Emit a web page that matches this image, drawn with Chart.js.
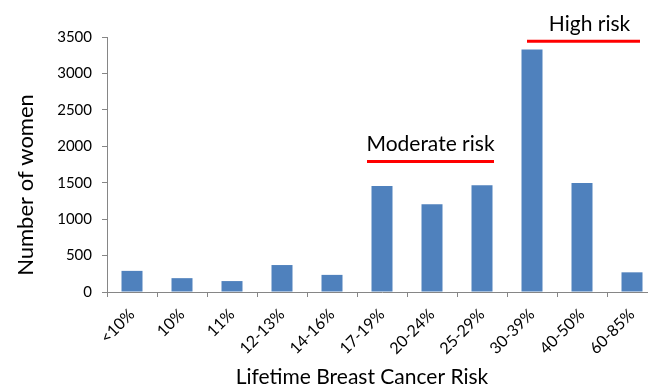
<!DOCTYPE html>
<html>
<head>
<meta charset="utf-8">
<script src="https://cdn.jsdelivr.net/npm/chart.js@4.4.0/dist/chart.umd.min.js"></script>
<style>
  html, body { margin: 0; padding: 0; background: #fff; overflow: hidden; }
  #wrap { width: 648px; height: 387px; overflow: hidden; }
</style>
</head>
<body>
<div id="wrap"><canvas id="chart" width="660" height="387"></canvas></div>
<script>
// categorias y valores
const categories = ['<10%', '10%', '11%', '12-13%', '14-16%', '17-19%', '20-24%', '25-29%', '30-39%', '40-50%', '60-85%'];
const women = [290, 190, 150, 370, 235, 1455, 1205, 1465, 3330, 1495, 270];
const yMax = 3500, yStep = 500;
const xTitle = 'Lifetime Breast Cancer Risk';
const yTitle = 'Number of women';

// bandas de riesgo (en indices de categoria y valor del eje y)
const riskLabels = ['Moderate risk', 'High risk'];
const riskStart = [4.7, 7.9];
const riskEnd = [7.24, 10.16];
const riskLevel = [1790, 3440];

const FONT = 'Lato, "Open Sans", sans-serif';
const AXIS = '#868686';

const riskPlugin = {
  id: 'riskBands',
  afterDatasetsDraw(chart) {
    const {ctx, scales: {x, y}} = chart;
    ctx.save();
    riskLabels.forEach((label, i) => {
      const x0 = x.getPixelForValue(riskStart[i]);
      const x1 = x.getPixelForValue(riskEnd[i]);
      const yy = y.getPixelForValue(riskLevel[i]);
      ctx.strokeStyle = '#ff0000';
      ctx.lineWidth = 3;
      ctx.beginPath();
      ctx.moveTo(x0, yy);
      ctx.lineTo(x1, yy);
      ctx.stroke();
      ctx.fillStyle = '#000';
      ctx.font = '21px ' + FONT;
      ctx.textAlign = 'center';
      ctx.textBaseline = 'alphabetic';
      ctx.fillText(label, (x0 + x1) / 2 + (i === 1 ? 6 : 0), yy - 10.5);
    });
    // titulos de ejes (centrados como en el original recortado)
    ctx.font = '21px ' + FONT;
    ctx.textAlign = 'center';
    ctx.fillText(xTitle, 362, 384);
    ctx.font = '22px ' + FONT;
    ctx.translate(33, 185);
    ctx.rotate(-Math.PI / 2);
    ctx.fillText(yTitle, 0, 0);
    ctx.restore();
  }
};

new Chart(document.getElementById('chart'), {
  type: 'bar',
  data: {
    labels: categories,
    datasets: [{
      label: yTitle,
      data: women,
      backgroundColor: '#4f81bd',
      barPercentage: 0.42,
      categoryPercentage: 1
    }]
  },
  options: {
    responsive: false,
    animation: false,
    layout: { padding: { top: 37, right: 3, left: 0, bottom: 0 } },
    plugins: { legend: { display: false }, tooltip: { enabled: false } },
    scales: {
      x: {
        grid: { display: true, drawOnChartArea: false, tickLength: 5, color: AXIS, offset: true },
        border: { color: AXIS },
        ticks: { color: '#000', font: { family: FONT, size: 16 }, maxRotation: 45, minRotation: 45, padding: 8 },
        afterFit: s => { s.height = 95; }
      },
      y: {
        min: 0, max: yMax,
        grid: { display: true, drawOnChartArea: false, tickLength: 5, color: AXIS },
        border: { color: AXIS },
        ticks: { stepSize: yStep, color: '#000', font: { family: FONT, size: 15 }, padding: 10, callback: v => String(v) },
        afterFit: s => { s.width = 107; }
      }
    }
  },
  plugins: [riskPlugin]
});
</script>
</body>
</html>
